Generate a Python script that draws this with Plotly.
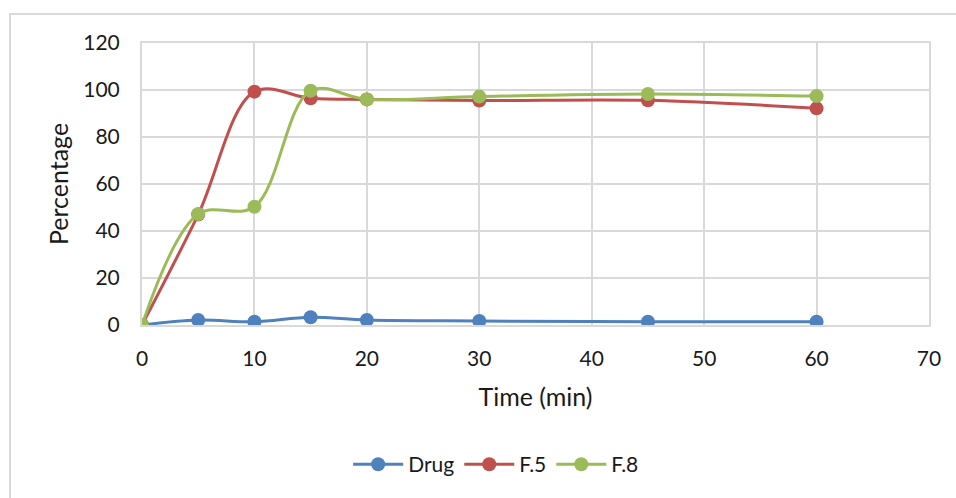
import plotly.graph_objects as go

time_min = [0, 5, 10, 15, 20, 30, 45, 60]
drug = [0, 2.1, 1.4, 3.3, 2.1, 1.7, 1.4, 1.4]
f5 = [0, 47.0, 99.3, 96.5, 96.0, 95.5, 95.6, 92.2]
f8 = [0, 47.2, 50.3, 99.7, 96.0, 97.2, 98.3, 97.4]

series = [("Drug", drug, "#4F81BD"), ("F.5", f5, "#C0504D"), ("F.8", f8, "#9BBB59")]

fig = go.Figure()
for name, vals, col in series:
    fig.add_trace(go.Scatter(
        x=time_min, y=vals, name=name, mode="lines+markers",
        line=dict(color=col, width=3, shape="spline", smoothing=1.0),
        marker=dict(color=col, size=14),
    ))

font = dict(family="Lato, Calibri, sans-serif", size=21, color="#1a1a1a")
title_font = dict(family="Lato, Calibri, sans-serif", size=25, color="#1a1a1a")
legend_font = dict(family="Lato, Calibri, sans-serif", size=21, color="#1a1a1a")
fig.update_layout(
    width=956, height=498,
    margin=dict(l=142, r=27, t=43, b=173),
    paper_bgcolor="white", plot_bgcolor="white",
    font=font,
    showlegend=True,
    legend=dict(orientation="h", x=0.45, xanchor="center", y=-0.495, yanchor="middle",
                font=legend_font, itemwidth=50, bgcolor="rgba(0,0,0,0)"),
    shapes=[dict(type="rect", xref="paper", yref="paper",
                 x0=-0.1677, y0=-0.7, x1=1.2, y1=1.1028,
                 line=dict(color="#D9D9D9", width=2), layer="below")],
)
fig.update_xaxes(range=[0, 70], tickvals=list(range(0, 71, 10)),
                 showgrid=True, gridcolor="#D9D9D9", gridwidth=2,
                 showline=True, linecolor="#D9D9D9", linewidth=2, mirror=True,
                 zeroline=False, ticks="", ticklabelstandoff=14,
                 title=dict(text="Time (min)", font=title_font, standoff=19))
fig.update_yaxes(range=[0, 120], tickvals=list(range(0, 121, 20)),
                 showgrid=True, gridcolor="#D9D9D9", gridwidth=2,
                 showline=True, linecolor="#D9D9D9", linewidth=2, mirror=True,
                 zeroline=False, ticks="", ticklabelstandoff=16,
                 title=dict(text="Percentage", font=title_font, standoff=8))

fig.write_html("out.html", config={"displayModeBar": False},
               post_script="document.body.style.margin='0';")
